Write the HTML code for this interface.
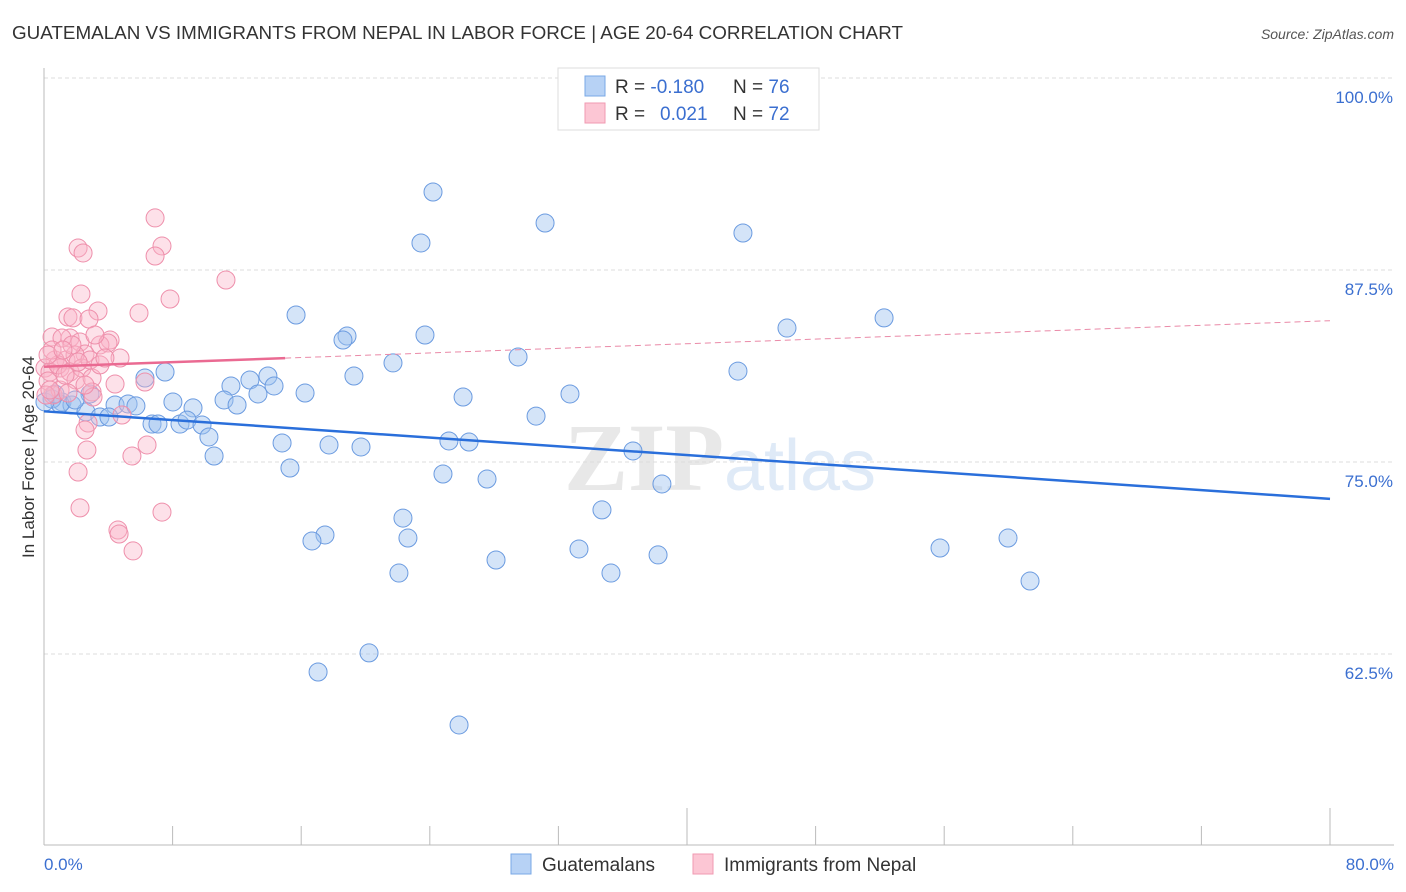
<!DOCTYPE html>
<html><head><meta charset="utf-8"><style>
body{margin:0;background:#fff;font-family:"Liberation Sans",sans-serif}
svg{display:block}
</style></head><body>
<svg id="c" width="1406" height="892" xmlns="http://www.w3.org/2000/svg">
<text x="12" y="39" font-size="18" fill="#333" textLength="891" lengthAdjust="spacingAndGlyphs">GUATEMALAN VS IMMIGRANTS FROM NEPAL IN LABOR FORCE | AGE 20-64 CORRELATION CHART</text>
<text x="1394" y="39" font-size="14" font-style="italic" fill="#555" text-anchor="end">Source: ZipAtlas.com</text>
<text x="720" y="490" font-size="96" font-weight="bold" fill="#e8e8e8" text-anchor="middle" font-family="Liberation Serif,serif">ZIP<tspan fill="#dfeaf7" font-family="Liberation Sans,sans-serif" font-weight="normal" font-size="72">atlas</tspan></text>
<g id="grid"></g>
<line x1="44" y1="68" x2="44" y2="845" stroke="#bbb"/>
<line x1="44" y1="845" x2="1394" y2="845" stroke="#bbb"/>
<text transform="translate(34,457) rotate(-90)" font-size="17" fill="#333" text-anchor="middle">In Labor Force | Age 20-64</text>
<text x="44" y="870" font-size="17" fill="#3b6fd0">0.0%</text>
<text x="1394" y="870" font-size="17" fill="#3b6fd0" text-anchor="end">80.0%</text>
<g id="pts"></g>
<g id="trend"></g>
<g>
<rect x="558" y="68" width="261" height="62" fill="#fff" stroke="#ddd"/>
<rect x="585" y="76" width="20" height="20" fill="#b7d2f5" stroke="#7aa8e6"/>
<rect x="585" y="103" width="20" height="20" fill="#fcc6d4" stroke="#f09ab2"/>
<text x="615" y="93" font-size="19" fill="#333">R = <tspan fill="#3b6fd0">-0.180</tspan><tspan x="733">N = </tspan><tspan fill="#3b6fd0">76</tspan></text>
<text x="615" y="120" font-size="19" fill="#333">R = <tspan x="660" fill="#3b6fd0">0.021</tspan><tspan x="733">N = </tspan><tspan fill="#3b6fd0">72</tspan></text>
</g>
<g>
<rect x="511" y="854" width="20" height="20" fill="#b7d2f5" stroke="#7aa8e6"/>
<text x="542" y="871" font-size="19" fill="#333">Guatemalans</text>
<rect x="693" y="854" width="20" height="20" fill="#fcc6d4" stroke="#f09ab2"/>
<text x="724" y="871" font-size="19" fill="#333">Immigrants from Nepal</text>
</g>
</svg>
<script>
const yTicks=[100,87.5,75,62.5];
const yTickLabels=["100.0%","87.5%","75.0%","62.5%"];
const xTicks=[0,8,16,24,32,40,48,56,64,72,80];
const blueTrend=[78.3,72.6];
const pinkTrend=[81.2,84.2];
const pinkSolidEnd=15;
const bluePx=[[433,192],[545,223],[743,233],[421,243],[296,315],[787,328],[884,318],[347,336],[343,340],[425,335],[518,357],[393,363],[738,371],[165,372],[145,378],[354,376],[268,376],[250,380],[274,386],[231,386],[305,393],[258,394],[463,397],[570,394],[224,400],[173,402],[237,405],[193,408],[115,405],[128,404],[136,406],[62,402],[72,405],[90,394],[86,412],[100,417],[109,417],[536,416],[152,424],[158,424],[180,424],[187,420],[202,425],[209,437],[282,443],[329,445],[361,447],[449,441],[469,442],[633,451],[214,456],[290,468],[443,474],[487,479],[662,484],[403,518],[602,510],[325,535],[312,541],[408,538],[579,549],[496,560],[658,555],[940,548],[1008,538],[399,573],[611,573],[1030,581],[369,653],[318,672],[459,725],[52,399],[60,404],[45,402],[55,394],[75,400]];
const pinkPx=[[155,218],[162,246],[155,256],[78,248],[83,253],[226,280],[81,294],[170,299],[98,311],[139,313],[68,317],[73,318],[89,319],[70,338],[110,340],[52,337],[62,338],[80,342],[100,345],[108,343],[85,354],[120,358],[66,360],[75,355],[55,360],[60,368],[45,368],[50,372],[58,365],[70,372],[82,368],[90,360],[76,380],[92,378],[48,381],[145,382],[115,384],[53,395],[92,392],[93,397],[122,415],[88,423],[85,430],[87,450],[147,445],[132,456],[78,472],[80,508],[162,512],[118,530],[119,534],[133,551],[60,390],[65,375],[72,345],[95,335],[100,365],[105,358],[52,350],[48,355],[63,350],[78,362],[85,385],[68,393],[46,395],[50,390]];
const blueX=bluePx.map(p=>+((p[0]-44)/16.075).toFixed(2));
const blueY=bluePx.map(p=>+(75+(462-p[1])/15.36).toFixed(2));
const pinkX=pinkPx.map(p=>+((p[0]-44)/16.075).toFixed(2));
const pinkY=pinkPx.map(p=>+(75+(462-p[1])/15.36).toFixed(2));
const NS="http://www.w3.org/2000/svg";
const sx=v=>44+v*16.075, sy=v=>462-(v-75)*15.36;
function mk(t,a,p){const e=document.createElementNS(NS,t);for(const k in a)e.setAttribute(k,a[k]);p.appendChild(e);return e;}
const grid=document.getElementById('grid');
yTicks.forEach((v,i)=>{
 const l=mk('line',{x1:44,x2:1394,y1:sy(v),y2:sy(v),stroke:'#ddd','stroke-dasharray':'4,3'},grid);
 
 
 const t=mk('text',{x:1393,y:sy(v)+25,'font-size':17,fill:'#3b6fd0','text-anchor':'end'},grid);
 t.textContent=yTickLabels[i];
 
 
});
xTicks.forEach((v,i)=>{
 const long=(i===5||i===10);
 const l=mk('line',{x1:sx(v),x2:sx(v),y1:long?808:826,y2:845,stroke:'#bbb'},grid);
 
 
});
const pts=document.getElementById('pts');
blueX.forEach((x,i)=>{
 const c=mk('circle',{cx:sx(x),cy:sy(blueY[i]),r:9,fill:'rgba(160,196,240,0.45)',stroke:'#6b9be0','stroke-width':1},pts);
 
 
});
pinkX.forEach((x,i)=>{
 const c=mk('circle',{cx:sx(x),cy:sy(pinkY[i]),r:9,fill:'rgba(250,180,200,0.4)',stroke:'#ee8fab','stroke-width':1},pts);
 
 
});
const tr=document.getElementById('trend');
const b=mk('line',{x1:sx(0),y1:sy(blueTrend[0]),x2:sx(80),y2:sy(blueTrend[1]),stroke:'#2a6fdb','stroke-width':2.5},tr);


const pAt=x=>pinkTrend[0]+(pinkTrend[1]-pinkTrend[0])*x/80;
const p1=mk('line',{x1:sx(0),y1:sy(pinkTrend[0]),x2:sx(pinkSolidEnd),y2:sy(pAt(pinkSolidEnd)),stroke:'#ea6a92','stroke-width':2.5},tr);


const p2=mk('line',{x1:sx(pinkSolidEnd),y1:sy(pAt(pinkSolidEnd)),x2:sx(80),y2:sy(pinkTrend[1]),stroke:'#ea8aa8','stroke-width':1,'stroke-dasharray':'6,4'},tr);


</script>
</body></html>
